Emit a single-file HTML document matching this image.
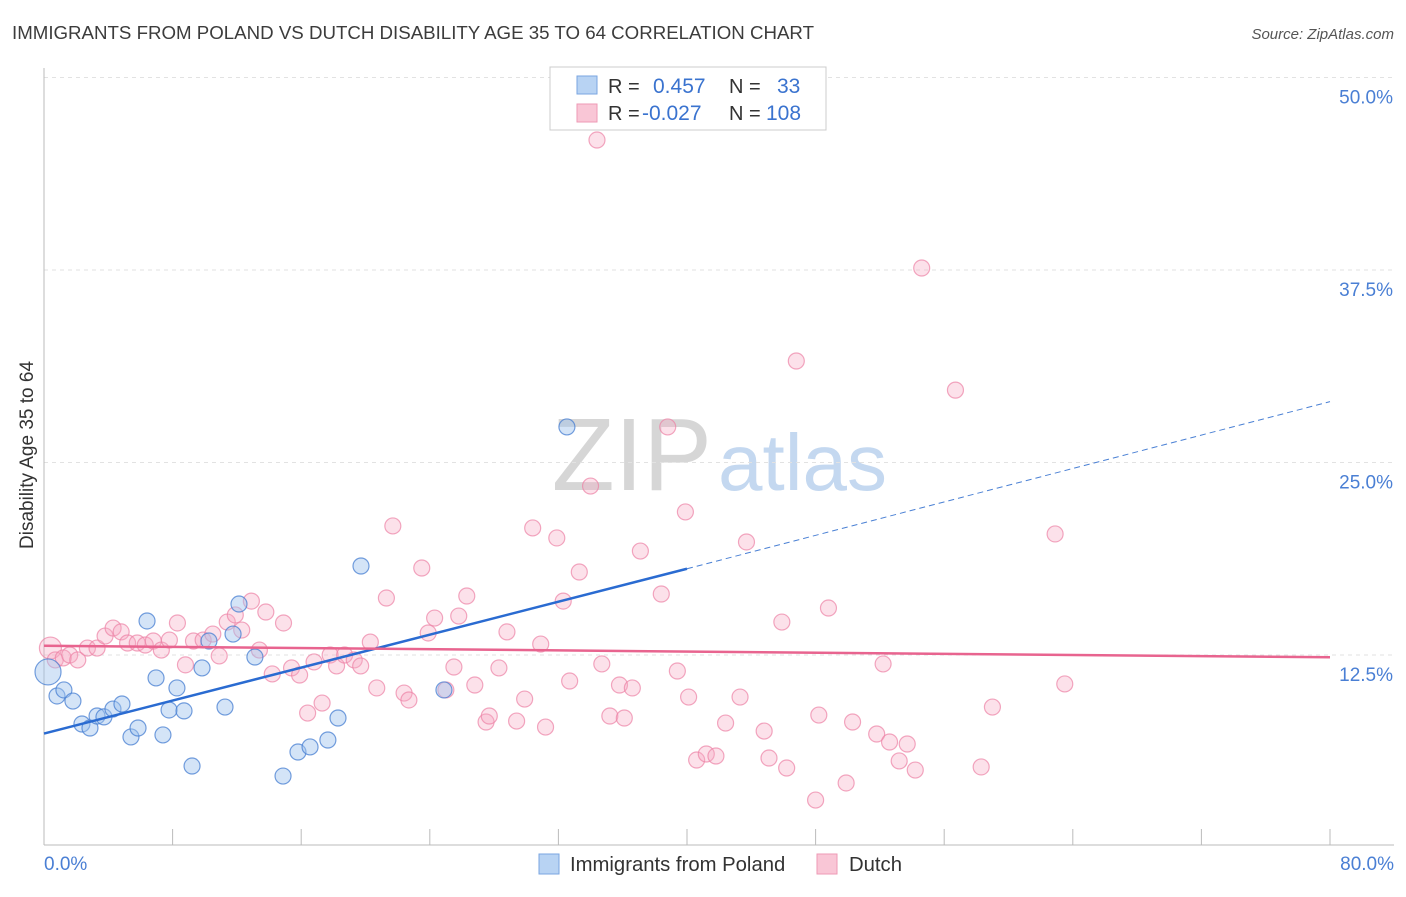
<!DOCTYPE html>
<html><head><meta charset="utf-8"><style>
body{margin:0;background:#fff;font-family:"Liberation Sans",sans-serif;}
svg text{font-family:"Liberation Sans",sans-serif;}
</style></head><body>
<svg width="1406" height="892" id="chart">
<text x="12" y="39" font-size="18.7" fill="#3c3c3c">IMMIGRANTS FROM POLAND VS DUTCH DISABILITY AGE 35 TO 64 CORRELATION CHART</text>
<text x="1394" y="39" font-size="15" fill="#555" text-anchor="end" font-style="italic">Source: ZipAtlas.com</text>
<text x="712" y="490" font-size="103" fill="#d6d6d6" text-anchor="end" font-family="Liberation Serif">ZIP</text>
<text x="718" y="490" font-size="80" fill="#c4d8f0">atlas</text>
<g id="grid"></g><g id="axes"></g><g id="pts"></g><g id="lines"></g>
<text x="33" y="455" font-size="19" fill="#333" text-anchor="middle" transform="rotate(-90 33 455)">Disability Age 35 to 64</text>
<text x="44" y="870" font-size="19" fill="#4a7fd4">0.0%</text>
<text x="1394" y="870" font-size="19" fill="#4a7fd4" text-anchor="end">80.0%</text>
<g>
<rect x="550" y="67" width="276" height="63" fill="#fff" stroke="#ccc"/>
<rect x="577" y="76" width="20" height="18" fill="#b8d3f3" stroke="#7aa6e0"/>
<rect x="577" y="104" width="20" height="18" fill="#f9c6d6" stroke="#ee9ab5"/>
<text x="608" y="93" font-size="20" fill="#333">R =</text><text x="653" y="93" font-size="21" fill="#3a73cf">0.457</text>
<text x="729" y="93" font-size="20" fill="#333">N =</text><text x="777" y="93" font-size="21" fill="#3a73cf">33</text>
<text x="608" y="120" font-size="20" fill="#333">R =</text><text x="642" y="120" font-size="21" fill="#3a73cf">-0.027</text>
<text x="729" y="120" font-size="20" fill="#333">N =</text><text x="766" y="120" font-size="21" fill="#3a73cf">108</text>
</g>
<g>
<rect x="539" y="854" width="20" height="20" fill="#b8d3f3" stroke="#7aa6e0"/>
<text x="570" y="871" font-size="20.3" fill="#333">Immigrants from Poland</text>
<rect x="817" y="854" width="20" height="20" fill="#f9c6d6" stroke="#ee9ab5"/>
<text x="849" y="871" font-size="20.3" fill="#333">Dutch</text>
</g>
</svg>
<script>
const yTicks=[12.5,25,37.5,50];
const yTickLabels=["12.5%","25.0%","37.5%","50.0%"];
const xTicks=[0,8,16,24,32,40,48,56,64,72,80];
const blueX=[0.25,0.81,1.24,1.80,2.36,2.86,3.30,3.73,4.29,4.85,5.41,5.85,6.41,6.97,7.40,7.78,8.27,8.71,9.21,9.83,10.26,11.26,11.76,12.13,13.12,14.87,15.80,16.55,17.66,18.29,19.72,24.88,32.53];
const blueY=[11.40,9.84,10.23,9.51,8.02,7.76,8.54,8.48,8.99,9.32,7.18,7.76,14.71,11.01,7.31,8.93,10.36,8.87,5.29,11.66,13.41,9.12,13.86,15.81,12.37,4.64,6.20,6.53,6.98,8.41,18.28,10.23,27.31];
const pinkX=[0.4,0.7,1.2,1.6,2.1,2.7,3.3,3.8,4.3,4.8,5.2,5.8,6.3,6.8,7.3,7.8,8.3,8.8,9.3,9.9,10.5,10.9,11.4,11.9,12.3,12.9,13.4,13.8,14.2,14.9,15.4,15.9,16.4,16.8,17.3,17.8,18.2,18.7,19.3,19.7,20.3,20.7,21.3,21.7,22.4,22.7,23.5,23.9,24.3,25.0,25.5,25.8,26.3,26.8,27.5,27.7,28.3,28.8,29.4,29.9,30.4,30.9,31.2,31.9,32.3,32.7,33.3,34.0,34.4,34.7,35.2,35.8,36.1,36.6,37.1,38.4,38.8,39.4,39.9,40.1,40.6,41.2,41.8,42.4,43.3,43.7,44.8,45.1,45.9,46.2,46.8,48.2,48.8,49.9,50.3,51.8,52.2,52.6,53.2,53.7,54.2,54.6,56.7,58.3,59.0,62.9,63.5,48.0];
const pinkY=[12.95,12.18,12.31,12.5,12.18,12.95,12.95,13.73,14.25,14.0,13.28,13.28,13.15,13.41,12.82,13.47,14.58,11.86,13.41,13.47,13.86,12.44,14.64,15.10,14.12,16.0,12.82,15.29,11.27,14.58,11.66,11.2,8.73,12.05,9.38,12.5,11.79,12.5,12.18,11.79,13.34,10.36,16.2,20.88,10.03,9.58,18.15,13.93,14.9,10.23,11.72,15.03,16.33,10.55,8.15,8.54,11.66,14.0,8.21,9.64,20.75,13.21,7.82,20.1,16.0,10.81,17.89,23.47,45.94,11.92,8.54,10.55,8.41,10.36,19.25,16.46,27.31,11.46,21.79,9.77,5.68,6.07,5.94,8.08,9.77,19.84,7.56,5.81,14.64,5.16,31.59,8.6,15.55,4.19,8.15,7.37,11.92,6.85,5.62,6.72,5.03,37.63,29.7,5.23,9.12,20.36,10.62,3.08];
const blueTrend=[[0,7.4],[40,18.1],[80,28.95]];
const pinkTrend=[[0,13.1],[80,12.35]];
const NS="http://www.w3.org/2000/svg";
const X=v=>44+v/80*1286;
const Y=v=>847.5-v/12.5*192.5;
function mk(t,a,p){const e=document.createElementNS(NS,t);for(const k in a)e.setAttribute(k,a[k]);document.getElementById(p).appendChild(e);return e;}
yTicks.forEach((t,i)=>{
 const g=mk('line',{x1:44,x2:1394,y1:Y(t),y2:Y(t),stroke:'#e2e2e2','stroke-dasharray':'4,4'},'grid');
 
 
 const tx=mk('text',{x:1393,y:Y(t)+26,'font-size':19,fill:'#4a7fd4','text-anchor':'end'},'axes');
 tx.textContent=yTickLabels[i];
 
 
});
const ax=mk('line',{x1:44,x2:44,y1:68,y2:845,stroke:'#bbb'},'axes');


const bx=mk('line',{x1:44,x2:1394,y1:845,y2:845,stroke:'#bbb'},'axes');


xTicks.forEach(t=>{const l=mk('line',{x1:X(t),x2:X(t),y1:829,y2:845,stroke:'#bbb'},'axes');
 
 });
pinkX.forEach((x,i)=>{const c=mk('circle',{cx:X(x),cy:Y(pinkY[i]),r:i==0?11:8,fill:'rgba(246,170,195,0.35)',stroke:'rgba(236,130,165,0.7)','stroke-width':1.2},'pts');
 
 });
blueX.forEach((x,i)=>{const c=mk('circle',{cx:X(x),cy:Y(blueY[i]),r:i==0?13:8,fill:'rgba(160,195,238,0.45)',stroke:'rgba(70,125,210,0.75)','stroke-width':1.2},'pts');
 
 });
const b1=mk('line',{x1:X(blueTrend[0][0]),y1:Y(blueTrend[0][1]),x2:X(blueTrend[1][0]),y2:Y(blueTrend[1][1]),stroke:'#2a6bd1','stroke-width':2.5},'lines');


const b2=mk('line',{x1:X(blueTrend[1][0]),y1:Y(blueTrend[1][1]),x2:X(blueTrend[2][0]),y2:Y(blueTrend[2][1]),stroke:'#4a80d4','stroke-width':1,'stroke-dasharray':'6,4'},'lines');


const p1=mk('line',{x1:X(pinkTrend[0][0]),y1:Y(pinkTrend[0][1]),x2:X(pinkTrend[1][0]),y2:Y(pinkTrend[1][1]),stroke:'#e8648f','stroke-width':2.5},'lines');


</script>
</body></html>
